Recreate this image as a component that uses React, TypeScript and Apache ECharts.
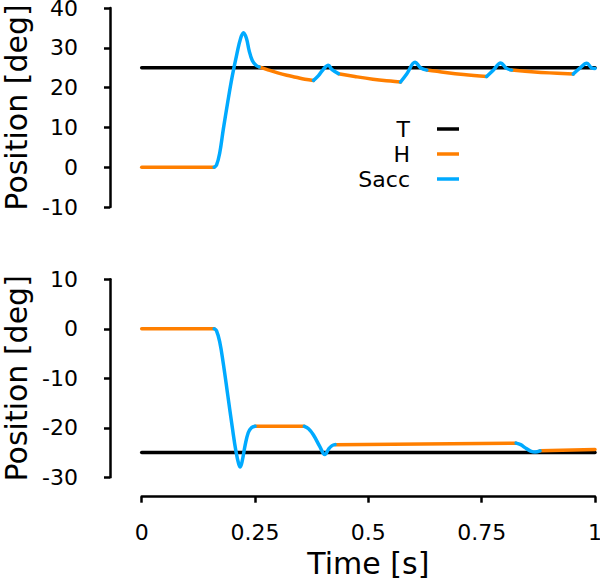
import React, { useEffect, useRef } from "react";
import * as echarts from "echarts";

// ---- data ----
const xTicks = [0, 0.25, 0.5, 0.75, 1];
const topTarget: number[][] = [[0, 25], [1, 25]];
const bottomTarget: number[][] = [[0, -25], [1, -25]];

// Head (H) segments, top panel
const topHead: number[][][] = [
  [[0, 0], [0.16, 0]],
  [[0.259, 25.2], [0.28, 24.4], [0.3, 23.7], [0.32, 23.1], [0.34, 22.6], [0.36, 22.1], [0.379, 21.8]],
  [[0.434, 23.5], [0.47, 22.8], [0.51, 22.1], [0.54, 21.7], [0.571, 21.4]],
  [[0.629, 24.4], [0.67, 23.8], [0.71, 23.3], [0.761, 22.8]],
  [[0.816, 24.4], [0.86, 24.0], [0.9, 23.7], [0.952, 23.4]],
];
// Saccade (Sacc) segments, top panel
const topSacc: number[][][] = [
  [[0.16, 0], [0.165, 0.5], [0.172, 3.5], [0.18, 9.5], [0.19, 16.5], [0.2, 23.0], [0.21, 28.5], [0.218, 32.3], [0.2245, 33.8], [0.231, 32.4], [0.237, 29.3], [0.244, 26.8], [0.252, 25.6], [0.259, 25.2]],
  [[0.379, 21.8], [0.39, 23.0], [0.4, 24.5], [0.4117, 25.6], [0.42, 24.5], [0.434, 23.5]],
  [[0.571, 21.4], [0.585, 23.5], [0.603, 26.4], [0.615, 25.0], [0.629, 24.4]],
  [[0.761, 22.8], [0.775, 24.3], [0.792, 26.2], [0.804, 24.9], [0.816, 24.4]],
  [[0.952, 23.4], [0.966, 24.8], [0.982, 26.1], [0.992, 25.0], [1.0, 24.8]],
];
// Head (H) segments, bottom panel
const bottomHead: number[][][] = [
  [[0, 0], [0.16, 0]],
  [[0.25, -19.7], [0.3588, -19.7]],
  [[0.4265, -23.4], [0.826, -23.1]],
  [[0.8787, -24.65], [1, -24.4]],
];
// Saccade (Sacc) segments, bottom panel
const bottomSacc: number[][][] = [
  [[0.16, 0], [0.165, -0.4], [0.172, -2.6], [0.18, -7.0], [0.19, -13.5], [0.2, -20.0], [0.208, -24.8], [0.214, -27.3], [0.2175, -27.9], [0.222, -26.6], [0.228, -23.6], [0.235, -21.0], [0.242, -20.0], [0.25, -19.7]],
  [[0.3588, -19.7], [0.368, -20.2], [0.3786, -21.4], [0.393, -23.8], [0.404, -25.4], [0.413, -24.2], [0.42, -23.6], [0.4265, -23.4]],
  [[0.826, -23.1], [0.836, -23.4], [0.8455, -24.0], [0.858, -24.7], [0.8676, -24.9], [0.8787, -24.65]],
];
const legendNames = ["T", "H", "Sacc"];

const FONT = "DejaVu Sans";
const C_T = "#000000";
const C_H = "#ff7f00";
const C_S = "#00aaff";
const LW = 3.5;

export default function App() {
  const ref = useRef<HTMLDivElement>(null);
  useEffect(() => {
    if (!ref.current) return;
    const chart = echarts.init(ref.current, undefined, { renderer: "svg" });

    const mk = (name: string, color: string, data: number[][], idx: number, smooth: boolean) => ({
      type: "line",
      name,
      xAxisIndex: idx,
      yAxisIndex: idx,
      data,
      color,
      showSymbol: false,
      symbol: "none",
      smooth: smooth ? 0.4 : false,
      lineStyle: { color, width: LW, cap: "round", join: "round" },
      z: name === "T" ? 1 : 2,
    });

    const series: any[] = [];
    series.push(mk("T", C_T, topTarget, 0, false));
    series.push(mk("T", C_T, bottomTarget, 1, false));
    topHead.forEach((s) => series.push(mk("H", C_H, s, 0, true)));
    bottomHead.forEach((s) => series.push(mk("H", C_H, s, 1, true)));
    topSacc.forEach((s) => series.push(mk("Sacc", C_S, s, 0, true)));
    bottomSacc.forEach((s) => series.push(mk("Sacc", C_S, s, 1, true)));

    const yAxisCommon = (min: number, max: number, idx: number) => ({
      type: "value",
      gridIndex: idx,
      min,
      max,
      interval: 10,
      offset: 31.7,
      splitLine: { show: false },
      axisLine: { show: true, onZero: false, lineStyle: { color: "#000", width: 2.5 } },
      axisTick: { show: true, inside: false, length: 6, lineStyle: { color: "#000", width: 2.5 } },
      axisLabel: { color: "#000", fontSize: 22, fontFamily: FONT, margin: 32 },
      name: "Position [deg]",
      nameLocation: "middle",
      nameGap: 78,
      nameTextStyle: { color: "#000", fontSize: 30, fontFamily: FONT },
    });

    chart.setOption({
      animation: false,
      backgroundColor: "#ffffff",
      textStyle: { fontFamily: FONT },
      legend: {
        orient: "vertical",
        align: "right",
        right: 141,
        top: 118,
        padding: 0,
        itemGap: 3,
        itemWidth: 22,
        itemHeight: 3.5,
        icon: "rect",
        data: legendNames,
        selectedMode: false,
        textStyle: { color: "#000", fontSize: 22, fontFamily: FONT, lineHeight: 22, padding: [0, 22, 0, 0] },
      },
      grid: [
        { left: 141.7, right: 5, top: 8, height: 199, containLabel: false, outerBoundsMode: "none" },
        { left: 141.7, right: 5, top: 279.3, height: 198, containLabel: false, outerBoundsMode: "none" },
      ],
      xAxis: [
        { type: "value", gridIndex: 0, min: 0, max: 1, interval: 0.25, show: false, splitLine: { show: false } },
        {
          type: "value",
          gridIndex: 1,
          min: 0,
          max: 1,
          interval: 0.25,
          offset: 19.4,
          splitLine: { show: false },
          axisLine: { show: true, onZero: false, lineStyle: { color: "#000", width: 2.5 } },
          axisTick: { show: true, inside: false, length: 6, lineStyle: { color: "#000", width: 2.5 } },
          axisLabel: {
            color: "#000",
            fontSize: 22,
            fontFamily: FONT,
            margin: 25,
            formatter: (v: number) => (xTicks.indexOf(v) >= 0 ? String(v) : ""),
          },
          name: "Time [s]",
          nameLocation: "middle",
          nameGap: 52,
          nameTextStyle: { color: "#000", fontSize: 30, fontFamily: FONT },
        },
      ],
      yAxis: [yAxisCommon(-10, 40, 0), yAxisCommon(-30, 10, 1)],
      series,
    });
    return () => chart.dispose();
  }, []);
  return (
    <div
      ref={ref}
      style={{ position: "absolute", left: 0, top: 0, width: 600, height: 580, background: "#fff" }}
    />
  );
}
